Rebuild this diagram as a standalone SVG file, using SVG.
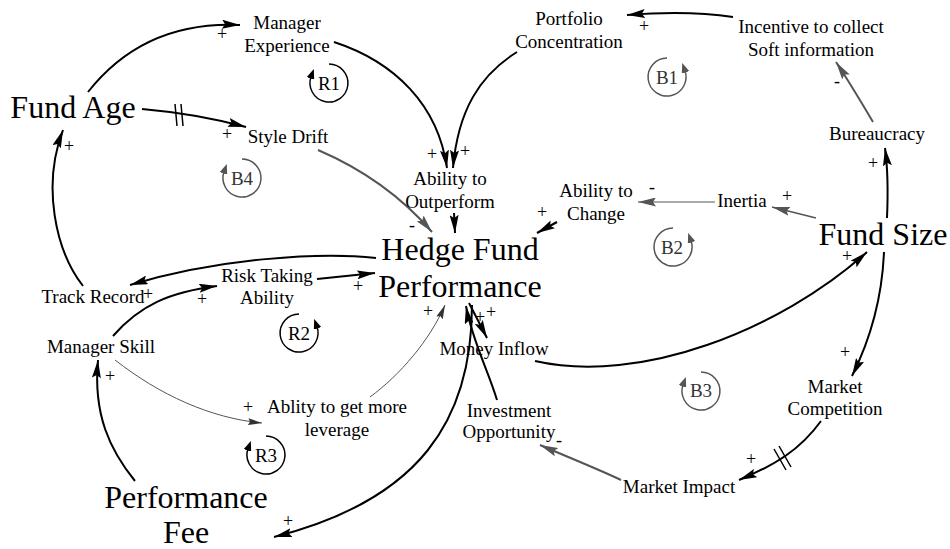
<svg xmlns="http://www.w3.org/2000/svg" width="950" height="549" viewBox="0 0 950 549">
<style>
text{font-family:"Liberation Serif","Times New Roman",serif;fill:#000;text-anchor:middle}
.s{font-size:19px}
.b{font-size:32px}
.p{font-size:18px}
.lp{font-size:19px}
.lpg{font-size:19px;fill:#333}
.k{fill:none;stroke:#000;stroke-width:2}
.g{fill:none;stroke:#555;stroke-width:2}
.t{fill:none;stroke:#555;stroke-width:1}
.lk{fill:none;stroke:#000;stroke-width:1.5}
.lg{fill:none;stroke:#555;stroke-width:1.5}
</style>
<defs>
<marker id="ah" viewBox="0 0 18 9" refX="18" refY="4.5" markerWidth="18" markerHeight="9" orient="auto" markerUnits="userSpaceOnUse"><path d="M0,0 L18,4.5 L0,9 L3,4.5 z" fill="#000"/></marker>
<marker id="ahg" viewBox="0 0 18 9" refX="18" refY="4.5" markerWidth="18" markerHeight="9" orient="auto" markerUnits="userSpaceOnUse"><path d="M0,0 L18,4.5 L0,9 L3,4.5 z" fill="#555"/></marker>
<marker id="aht" viewBox="0 0 14 7" refX="14" refY="3.5" markerWidth="14" markerHeight="7" orient="auto" markerUnits="userSpaceOnUse"><path d="M0,0 L14,3.5 L0,7 L2,3.5 z" fill="#333"/></marker>
<marker id="al" viewBox="0 0 10 8" refX="2" refY="4" markerWidth="10" markerHeight="8" orient="auto" markerUnits="userSpaceOnUse"><path d="M0,0 L10,4 L0,8 z" fill="#000"/></marker>
<marker id="alg" viewBox="0 0 10 8" refX="2" refY="4" markerWidth="10" markerHeight="8" orient="auto" markerUnits="userSpaceOnUse"><path d="M0,0 L10,4 L0,8 z" fill="#555"/></marker>
</defs>

<g id="connectors">
<path class="k" d="M88,92 C125,45 175,22 240,25" marker-end="url(#ah)"/>
<path class="k" d="M142,109 C165,111 205,116 246,127" marker-end="url(#ah)"/>
<path d="M175,104 L177,126 M181,104 L183,126" stroke="#000" stroke-width="1.5" fill="none"/>
<path class="k" d="M334,42 C395,62 438,105 447,168" marker-end="url(#ah)"/>
<path class="k" d="M517,52 C480,75 458,110 453,168" marker-end="url(#ah)"/>
<path class="k" d="M733,17 C700,12 665,12 627,15" marker-end="url(#ah)"/>
<path class="g" d="M873,122 C860,100 848,80 836,62" marker-end="url(#ahg)"/>
<path class="k" d="M887,218 C888,195 888,170 885,148" marker-end="url(#ah)"/>
<path class="g" style="stroke-width:1.5" d="M816,218 L772,207" marker-end="url(#ahg)"/>
<path class="t" d="M715,202 L638,202" marker-end="url(#ahg)"/>
<path class="k" d="M557,222 L537,233" marker-end="url(#ah)"/>
<path class="g" d="M318,150 C360,168 400,195 432,232" marker-end="url(#ahg)"/>
<path class="k" d="M454,213 L455,233" marker-end="url(#ah)"/>
<path class="k" d="M376,258 C320,252 220,258 130,285" marker-end="url(#ah)"/>
<path class="k" d="M83,286 C55,250 42,185 63,130" marker-end="url(#ah)"/>
<path class="k" d="M113,336 C140,305 170,292 217,286" marker-end="url(#ah)"/>
<path class="k" d="M317,279 L375,273" marker-end="url(#ah)"/>
<path class="t" d="M115,360 C160,395 210,418 262,423" marker-end="url(#aht)"/>
<path class="t" d="M370,397 C400,375 430,340 445,305" marker-end="url(#aht)"/>
<path class="k" d="M135,481 C110,450 93,415 98,360" marker-end="url(#ah)"/>
<path class="k" d="M469,303 L487,338" marker-end="url(#ah)"/>
<path class="k" d="M535,361 C640,385 780,330 867,252" marker-end="url(#ah)"/>
<path class="k" d="M884,252 C882,300 870,340 852,376" marker-end="url(#ah)"/>
<path class="k" d="M821,421 C800,450 775,465 739,480" marker-end="url(#ah)"/>
<path d="M774,449 L786,470 M779,446 L791,467" stroke="#000" stroke-width="1.5" fill="none"/>
<path class="g" d="M621,480 C600,470 570,458 540,445" marker-end="url(#ahg)"/>
<path class="k" d="M497,400 C488,370 472,340 466,306" marker-end="url(#ah)"/>
<path class="k" d="M472,305 C472,420 420,500 274,537" marker-end="url(#ah)"/>
</g>

<g id="polarities">
<text class="p" x="222" y="40">+</text>
<text class="p" x="227" y="140">+</text>
<text class="p" x="432" y="160">+</text>
<text class="p" x="465" y="157">+</text>
<text class="p" x="644" y="32">+</text>
<text class="p" x="837" y="87">-</text>
<text class="p" x="873" y="169">+</text>
<text class="p" x="787" y="202">+</text>
<text class="p" x="652" y="193">-</text>
<text class="p" x="542" y="218">+</text>
<text class="p" x="412" y="231">-</text>
<text class="p" x="148" y="300">+</text>
<text class="p" x="69" y="152">+</text>
<text class="p" x="202" y="305">+</text>
<text class="p" x="358" y="292">+</text>
<text class="p" x="248" y="413">+</text>
<text class="p" x="428" y="317">+</text>
<text class="p" x="110" y="382">+</text>
<text class="p" x="491" y="318">+</text>
<text class="p" x="480" y="323">+</text>
<text class="p" x="847" y="262">+</text>
<text class="p" x="845" y="358">+</text>
<text class="p" x="751" y="465">+</text>
<text class="p" x="559" y="446">-</text>
<text class="p" x="288" y="527">+</text>
</g>

<g id="loops">
<g id="loop-R1"><path class="lk" d="M329,64 A19,19 0 1,1 311.1,76.5" marker-end="url(#al)"/><text class="lp" x="329" y="90">R1</text></g>
<g id="loop-B1"><path class="lg" d="M667,58 A19,19 0 1,0 684.9,70.5" marker-end="url(#alg)"/><text class="lpg" x="667" y="84">B1</text></g>
<g id="loop-B4"><path class="lg" d="M242,159 A19,19 0 1,1 224.1,171.5" marker-end="url(#alg)"/><text class="lpg" x="242" y="185">B4</text></g>
<g id="loop-R2"><path class="lk" d="M299,314 A19,19 0 1,0 316.9,326.5" marker-end="url(#al)"/><text class="lp" x="299" y="340">R2</text></g>
<g id="loop-B2"><path class="lg" d="M673,228 A19,19 0 1,0 690.9,240.5" marker-end="url(#alg)"/><text class="lpg" x="672" y="254">B2</text></g>
<g id="loop-R3"><path class="lk" d="M266,436 A19,19 0 1,1 248.1,448.5" marker-end="url(#al)"/><text class="lp" x="266" y="462">R3</text></g>
<g id="loop-B3"><path class="lg" d="M701,372 A19,19 0 1,1 683.1,384.5" marker-end="url(#alg)"/><text class="lpg" x="701" y="397">B3</text></g>
</g>

<g id="fund-age"><text class="b" x="73" y="118">Fund Age</text></g>
<g id="manager-experience"><text class="s" x="287" y="29">Manager</text><text class="s" x="287" y="52">Experience</text></g>
<g id="portfolio-concentration"><text class="s" x="569" y="25">Portfolio</text><text class="s" x="569" y="48">Concentration</text></g>
<g id="incentive"><text class="s" x="811" y="33">Incentive to collect</text><text class="s" x="811" y="56">Soft information</text></g>
<g id="style-drift"><text class="s" x="288" y="143">Style Drift</text></g>
<g id="bureaucracy"><text class="s" x="877" y="140">Bureaucracy</text></g>
<g id="ability-outperform"><text class="s" x="450" y="185">Ability to</text><text class="s" x="450" y="208">Outperform</text></g>
<g id="ability-change"><text class="s" x="596" y="197">Ability to</text><text class="s" x="596" y="220">Change</text></g>
<g id="inertia"><text class="s" x="742" y="207">Inertia</text></g>
<g id="fund-size"><text class="b" x="883" y="245">Fund Size</text></g>
<g id="hedge-fund-performance"><text class="b" x="460" y="260">Hedge Fund</text><text class="b" x="460" y="297">Performance</text></g>
<g id="track-record"><text class="s" x="93" y="303">Track Record</text></g>
<g id="risk-taking"><text class="s" x="267" y="282">Risk Taking</text><text class="s" x="267" y="304">Ability</text></g>
<g id="manager-skill"><text class="s" x="101" y="353">Manager Skill</text></g>
<g id="money-inflow"><text class="s" x="494" y="355">Money Inflow</text></g>
<g id="leverage"><text class="s" x="337" y="413">Ablity to get more</text><text class="s" x="337" y="436">leverage</text></g>
<g id="investment-opportunity"><text class="s" x="509" y="417">Investment</text><text class="s" x="509" y="438">Opportunity</text></g>
<g id="market-competition"><text class="s" x="835" y="393">Market</text><text class="s" x="835" y="415">Competition</text></g>
<g id="market-impact"><text class="s" x="679" y="493">Market Impact</text></g>
<g id="performance-fee"><text class="b" x="186" y="508">Performance</text><text class="b" x="186" y="543">Fee</text></g>
</svg>
